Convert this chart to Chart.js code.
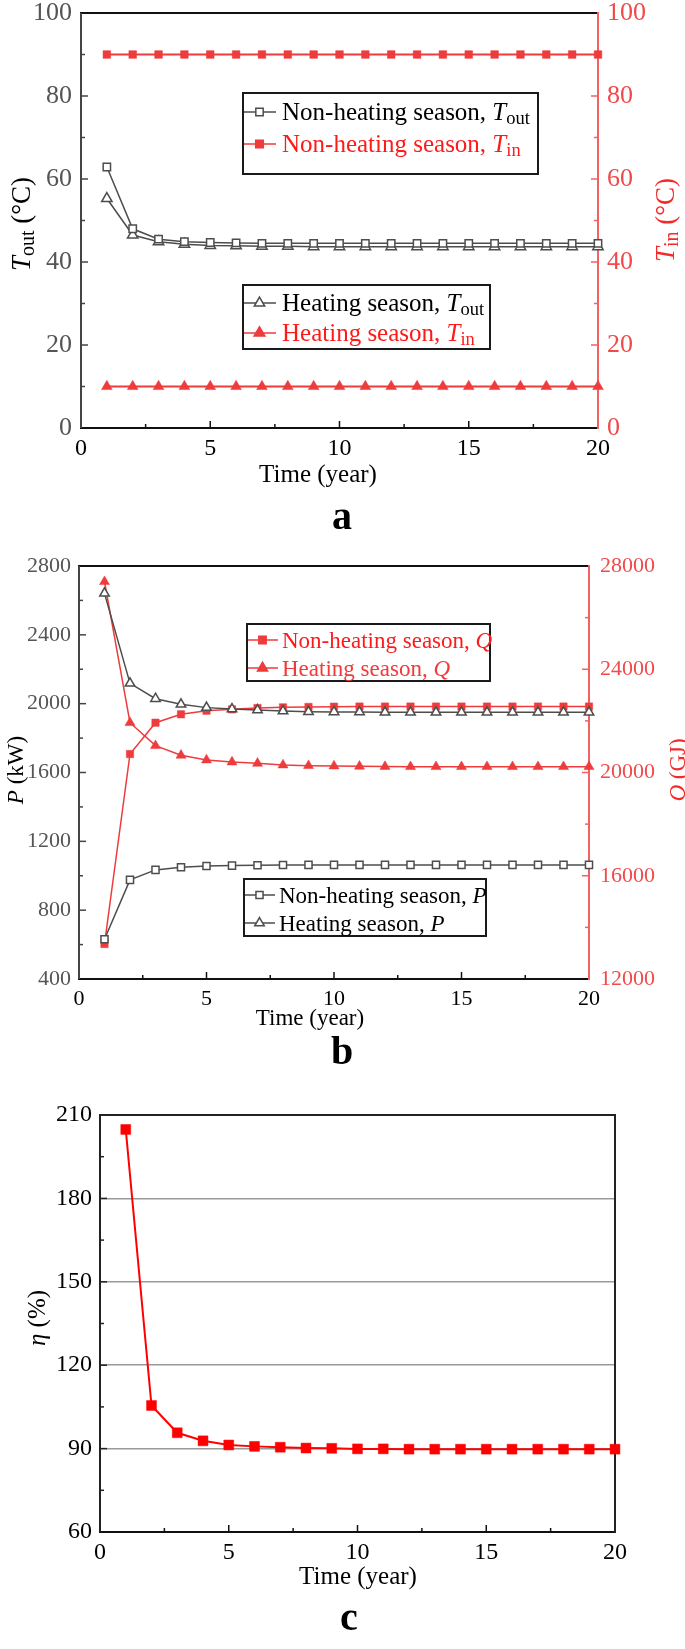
<!DOCTYPE html>
<html>
<head>
<meta charset="utf-8">
<script src="https://cdn.jsdelivr.net/npm/chart.js@4.4.1/dist/chart.umd.min.js"></script>
<style>
  html, body { margin: 0; padding: 0; background: #fff; }
  #wrap { position: relative; width: 685px; height: 1649px; }
  canvas { position: absolute; left: 0; }
</style>
</head>
<body>
<div id="wrap">
  <canvas id="ca" width="685" height="540" style="top:0px"></canvas>
  <canvas id="cb" width="685" height="540" style="top:540px"></canvas>
  <canvas id="cc" width="685" height="569" style="top:1080px"></canvas>
</div>
<script>
// ---- data ----
const years = [1, 2, 3, 4, 5, 6, 7, 8, 9, 10, 11, 12, 13, 14, 15, 16, 17, 18, 19, 20];
const xTicks = [0, 5, 10, 15, 20];

// panel a: temperatures (°C)
const nonHeatTout = [62.9, 48.0, 45.5, 44.9, 44.7, 44.6, 44.5, 44.5, 44.5, 44.5, 44.5, 44.5, 44.5, 44.5, 44.5, 44.5, 44.5, 44.5, 44.5, 44.5];
const heatTout = [55.3, 46.5, 44.9, 44.3, 44.0, 43.9, 43.8, 43.8, 43.7, 43.7, 43.7, 43.7, 43.7, 43.7, 43.7, 43.7, 43.7, 43.7, 43.7, 43.7];
const nonHeatTin = [90, 90, 90, 90, 90, 90, 90, 90, 90, 90, 90, 90, 90, 90, 90, 90, 90, 90, 90, 90];
const heatTin = [10, 10, 10, 10, 10, 10, 10, 10, 10, 10, 10, 10, 10, 10, 10, 10, 10, 10, 10, 10];
const aTicks = [0, 20, 40, 60, 80, 100];

// panel b: power (kW) and heat (GJ)
const nonHeatP = [631, 976, 1034, 1049, 1057, 1059, 1061, 1062, 1063, 1063, 1063, 1063, 1063, 1063, 1063, 1063, 1063, 1063, 1063, 1063];
const heatP = [2641, 2118, 2029, 1996, 1977, 1969, 1963, 1957, 1953, 1952, 1951, 1950, 1950, 1950, 1950, 1950, 1950, 1950, 1950, 1950];
const nonHeatQ = [13355, 20716, 21929, 22254, 22394, 22446, 22498, 22524, 22540, 22550, 22555, 22555, 22555, 22555, 22555, 22555, 22555, 22555, 22555, 22555];
const heatQ = [27392, 21929, 21039, 20666, 20484, 20406, 20355, 20290, 20264, 20251, 20240, 20230, 20225, 20225, 20225, 20225, 20225, 20225, 20225, 20225];
const bLeftTicks = [400, 800, 1200, 1600, 2000, 2400, 2800];
const bRightTicks = [12000, 16000, 20000, 24000, 28000];

// panel c: efficiency (%)
const eta = [204.8, 105.5, 95.7, 92.8, 91.3, 90.8, 90.5, 90.2, 90.1, 89.9, 89.9, 89.8, 89.8, 89.8, 89.8, 89.8, 89.8, 89.8, 89.8, 89.8];
const cTicks = [60, 90, 120, 150, 180, 210];

// ---- helpers ----
const FONT = '"Liberation Serif", "Times New Roman", serif';
const RED_A = '#ee3b3b';
const RED_C = '#ff0000';
const GRAY = '#4d4d4d';

const pts = arr => years.map((x, i) => ({ x: x, y: arr[i] }));

function xScale(h, size) {
  return {
    type: 'linear', min: 0, max: 20,
    afterBuildTicks: s => { s.ticks = xTicks.map(v => ({ value: v })); },
    afterFit: s => { s.height = h; s.paddingLeft = 0; s.paddingRight = 0; },
    grid: { display: false, drawTicks: false },
    border: { display: false },
    ticks: { font: { family: FONT, size: size, lineHeight: 1 }, color: '#000', padding: 9,
             maxRotation: 0, autoSkip: false, callback: v => String(v) }
  };
}

function yScale(pos, vals, width, size, color, pad, grid) {
  return {
    type: 'linear', position: pos, min: vals[0], max: vals[vals.length - 1],
    afterBuildTicks: s => { s.ticks = vals.map(v => ({ value: v })); },
    afterFit: s => { s.width = width; s.paddingTop = 0; s.paddingBottom = 0; },
    grid: grid || { display: false, drawTicks: false },
    border: { display: false },
    ticks: { font: { family: FONT, size: size, lineHeight: 1 }, color: color, padding: pad,
             autoSkip: false, callback: v => String(v) }
  };
}

function line(data, color, style, radius, filled, width, axis) {
  return {
    data: pts(data), yAxisID: axis || 'y',
    borderColor: color, borderWidth: width, tension: 0, clip: false,
    pointStyle: style, pointRadius: radius, pointHoverRadius: radius,
    pointBackgroundColor: filled ? color : '#fff',
    pointBorderColor: color, pointBorderWidth: filled ? 0.5 : 1.5
  };
}

function partsOf(ctx, parts, size) {
  return parts.map(p => {
    const sub = p[1] === 'sub';
    const fs = sub ? size * 0.74 : size;
    const font = (p[1] === 'i' ? 'italic ' : '') + fs + 'px ' + FONT;
    ctx.font = font;
    return { t: p[0], font: font, w: ctx.measureText(p[0]).width, dy: sub ? size * 0.14 : 0 };
  });
}

// draws text whose visual (cap) centre sits at y
function drawRich(ctx, parts, x, y, size, color, align, rot) {
  ctx.save();
  ctx.translate(x, y);
  if (rot) ctx.rotate(rot);
  const ps = partsOf(ctx, parts, size);
  const total = ps.reduce((s, p) => s + p.w, 0);
  let cx = align === 'center' ? -total / 2 : 0;
  ctx.fillStyle = color;
  ctx.textAlign = 'left';
  ctx.textBaseline = 'alphabetic';
  ps.forEach(p => {
    ctx.font = p.font;
    ctx.fillText(p.t, cx, size * 0.33 + p.dy);
    cx += p.w;
  });
  ctx.restore();
}

function marker(ctx, style, x, y, r, color, filled) {
  ctx.beginPath();
  if (style === 'rect') {
    const s = r * Math.SQRT1_2;
    ctx.rect(x - s, y - s, 2 * s, 2 * s);
  } else {
    let a = 0;
    ctx.moveTo(x + Math.sin(a) * r, y - Math.cos(a) * r);
    a += 2 * Math.PI / 3;
    ctx.lineTo(x + Math.sin(a) * r, y - Math.cos(a) * r);
    a += 2 * Math.PI / 3;
    ctx.lineTo(x + Math.sin(a) * r, y - Math.cos(a) * r);
    ctx.closePath();
  }
  ctx.fillStyle = filled ? color : '#fff';
  ctx.fill();
  ctx.lineWidth = 1.5;
  ctx.strokeStyle = color;
  ctx.stroke();
}

function decor(cfg) {
  const off = cfg.top;
  return {
    id: 'decor',
    beforeDatasetsDraw(chart) {
      const ctx = chart.ctx, ca = chart.chartArea;
      ctx.save();
      // inward tick marks, major and minor
      cfg.ticks.forEach(t => {
        const s = chart.scales[t.id];
        const vals = s.ticks.map(k => k.value);
        const marks = [];
        vals.forEach((v, i) => {
          marks.push([v, 7]);
          if (i < vals.length - 1) marks.push([(v + vals[i + 1]) / 2, 4]);
        });
        ctx.strokeStyle = t.color;
        ctx.lineWidth = 1.5;
        marks.forEach(m => {
          const p = s.getPixelForValue(m[0]);
          ctx.beginPath();
          if (t.side === 'bottom') { ctx.moveTo(p, ca.bottom); ctx.lineTo(p, ca.bottom - m[1]); }
          else if (t.side === 'left') { ctx.moveTo(ca.left, p); ctx.lineTo(ca.left + m[1], p); }
          else { ctx.moveTo(ca.right, p); ctx.lineTo(ca.right - m[1], p); }
          ctx.stroke();
        });
      });
      // frame
      ctx.lineWidth = 2;
      const seg = (c, x1, y1, x2, y2) => {
        ctx.strokeStyle = c; ctx.beginPath(); ctx.moveTo(x1, y1); ctx.lineTo(x2, y2); ctx.stroke();
      };
      const f = cfg.frame;
      seg(f.top, ca.left - 1, ca.top, ca.right + 1, ca.top);
      seg(f.bottom, ca.left - 1, ca.bottom, ca.right + 1, ca.bottom);
      seg(f.left, ca.left, ca.top, ca.left, ca.bottom);
      seg(f.right, ca.right, ca.top - 1, ca.right, ca.bottom + 1);
      ctx.restore();
    },
    afterDraw(chart) {
      const ctx = chart.ctx;
      ctx.save();
      cfg.titles.forEach(t => drawRich(ctx, t.parts, t.x, t.y - off, t.size, t.color, 'center', t.rot));
      cfg.legends.forEach(lg => {
        const [bx, by, bw, bh] = lg.box;
        ctx.fillStyle = '#fff';
        ctx.fillRect(bx, by - off, bw, bh);
        ctx.lineWidth = 2;
        ctx.strokeStyle = '#1a1a1a';
        ctx.strokeRect(bx, by - off, bw, bh);
        lg.rows.forEach(r => {
          const y = r.y - off;
          ctx.strokeStyle = r.color;
          ctx.lineWidth = 1.5;
          ctx.beginPath();
          ctx.moveTo(bx + 1, y);
          ctx.lineTo(bx + lg.lineLen, y);
          ctx.stroke();
          marker(ctx, r.style, bx + lg.lineLen / 2, y, r.r, r.color, r.filled);
          drawRich(ctx, r.parts, bx + lg.textX, y, lg.size, r.textColor, 'left');
        });
      });
      const L = cfg.letter;
      ctx.font = 'bold 40px ' + FONT;
      ctx.fillStyle = '#000';
      ctx.textAlign = 'center';
      ctx.textBaseline = 'alphabetic';
      ctx.fillText(L.t, L.x, L.y - off);
      ctx.restore();
    }
  };
}

const common = {
  responsive: false, animation: false, events: [],
  plugins: { legend: { display: false }, tooltip: { enabled: false } }
};

// ---- panel a ----
new Chart(document.getElementById('ca'), {
  type: 'line',
  data: {
    datasets: [
      line(nonHeatTin, RED_A, 'rect', 5.4, true, 2, 'y2'),
      line(heatTin, RED_A, 'triangle', 6.2, true, 2, 'y2'),
      line(nonHeatTout, GRAY, 'rect', 5.2, false, 1.5),
      line(heatTout, GRAY, 'triangle', 6, false, 1.5)
    ]
  },
  options: Object.assign({}, common, {
    layout: { padding: { top: 13, left: 0, right: 0, bottom: 0 } },
    scales: {
      x: xScale(540 - 428, 24),
      y: yScale('left', aTicks, 81, 26, '#555', 9),
      y2: yScale('right', aTicks, 685 - 598, 26, '#f04a4a', 9)
    }
  }),
  plugins: [decor({
    top: 0,
    frame: { top: '#111', bottom: '#111', left: '#444', right: '#f26262' },
    ticks: [
      { id: 'x', side: 'bottom', color: '#111' },
      { id: 'y', side: 'left', color: '#444' },
      { id: 'y2', side: 'right', color: '#f26262' }
    ],
    titles: [
      { parts: [['T', 'i'], ['out', 'sub'], [' (°C)']], x: 21, y: 224, size: 27, color: '#000', rot: -Math.PI / 2 },
      { parts: [['T', 'i'], ['in', 'sub'], [' (°C)']], x: 665, y: 220, size: 27, color: '#f42a2a', rot: -Math.PI / 2 },
      { parts: [['Time (year)']], x: 318, y: 474, size: 25, color: '#000' }
    ],
    legends: [
      { box: [243, 93, 295, 81], size: 25, lineLen: 33, textX: 39, rows: [
        { y: 112, style: 'rect', r: 5.2, color: GRAY, filled: false, textColor: '#000',
          parts: [['Non-heating season, '], ['T', 'i'], ['out', 'sub']] },
        { y: 144, style: 'rect', r: 5.4, color: RED_A, filled: true, textColor: '#ff1a1a',
          parts: [['Non-heating season, '], ['T', 'i'], ['in', 'sub']] }
      ] },
      { box: [243, 285, 247, 64], size: 25, lineLen: 33, textX: 39, rows: [
        { y: 303, style: 'triangle', r: 6, color: GRAY, filled: false, textColor: '#000',
          parts: [['Heating season, '], ['T', 'i'], ['out', 'sub']] },
        { y: 333, style: 'triangle', r: 6.2, color: RED_A, filled: true, textColor: '#ff1a1a',
          parts: [['Heating season, '], ['T', 'i'], ['in', 'sub']] }
      ] }
    ],
    letter: { t: 'a', x: 342, y: 529 }
  })]
});

// ---- panel b ----
new Chart(document.getElementById('cb'), {
  type: 'line',
  data: {
    datasets: [
      line(nonHeatP, GRAY, 'rect', 5, false, 1.5),
      line(heatP, GRAY, 'triangle', 5.5, false, 1.5),
      line(nonHeatQ, RED_A, 'rect', 5.2, true, 1.5, 'y2'),
      line(heatQ, RED_A, 'triangle', 5.8, true, 1.5, 'y2')
    ]
  },
  options: Object.assign({}, common, {
    layout: { padding: { top: 26, left: 0, right: 0, bottom: 0 } },
    scales: {
      x: xScale(540 - 439, 22),
      y: yScale('left', bLeftTicks, 79, 22, '#555', 8),
      y2: yScale('right', bRightTicks, 685 - 589, 22, '#f04a4a', 11)
    }
  }),
  plugins: [decor({
    top: 540,
    frame: { top: '#111', bottom: '#111', left: '#444', right: '#f26262' },
    ticks: [
      { id: 'x', side: 'bottom', color: '#111' },
      { id: 'y', side: 'left', color: '#444' },
      { id: 'y2', side: 'right', color: '#f26262' }
    ],
    titles: [
      { parts: [['P', 'i'], [' (kW)']], x: 15, y: 770, size: 23, color: '#000', rot: -Math.PI / 2 },
      { parts: [['Q', 'i'], [' (GJ)']], x: 677, y: 770, size: 23, color: '#f42a2a', rot: -Math.PI / 2 },
      { parts: [['Time (year)']], x: 310, y: 1017, size: 23, color: '#000' }
    ],
    legends: [
      { box: [247, 624, 243, 57], size: 23, lineLen: 31, textX: 35, rows: [
        { y: 640, style: 'rect', r: 5.2, color: RED_A, filled: true, textColor: '#ff1a1a',
          parts: [['Non-heating season, '], ['Q', 'i']] },
        { y: 668, style: 'triangle', r: 5.8, color: RED_A, filled: true, textColor: '#f23a3a',
          parts: [['Heating season, '], ['Q', 'i']] }
      ] },
      { box: [244, 879, 242, 57], size: 23, lineLen: 31, textX: 35, rows: [
        { y: 895, style: 'rect', r: 5, color: GRAY, filled: false, textColor: '#000',
          parts: [['Non-heating season, '], ['P', 'i']] },
        { y: 923, style: 'triangle', r: 5.5, color: GRAY, filled: false, textColor: '#000',
          parts: [['Heating season, '], ['P', 'i']] }
      ] }
    ],
    letter: { t: 'b', x: 342, y: 1064 }
  })]
});

// ---- panel c ----
new Chart(document.getElementById('cc'), {
  type: 'line',
  data: {
    datasets: [ line(eta, RED_C, 'rect', 7, true, 2) ]
  },
  options: Object.assign({}, common, {
    layout: { padding: { top: 35, left: 0, right: 685 - 615, bottom: 0 } },
    scales: {
      x: xScale(569 - 452, 24),
      y: yScale('left', cTicks, 100, 24, '#000', 8,
                { display: true, drawTicks: false, color: '#9a9a9a', lineWidth: 1.5 })
    }
  }),
  plugins: [decor({
    top: 1080,
    frame: { top: '#222', bottom: '#111', left: '#222', right: '#222' },
    ticks: [
      { id: 'x', side: 'bottom', color: '#111' },
      { id: 'y', side: 'left', color: '#222' }
    ],
    titles: [
      { parts: [['η', 'i'], [' (%)']], x: 37, y: 1318, size: 25, color: '#000', rot: -Math.PI / 2 },
      { parts: [['Time (year)']], x: 358, y: 1576, size: 25, color: '#000' }
    ],
    legends: [],
    letter: { t: 'c', x: 349, y: 1630 }
  })]
});
</script>
</body>
</html>
